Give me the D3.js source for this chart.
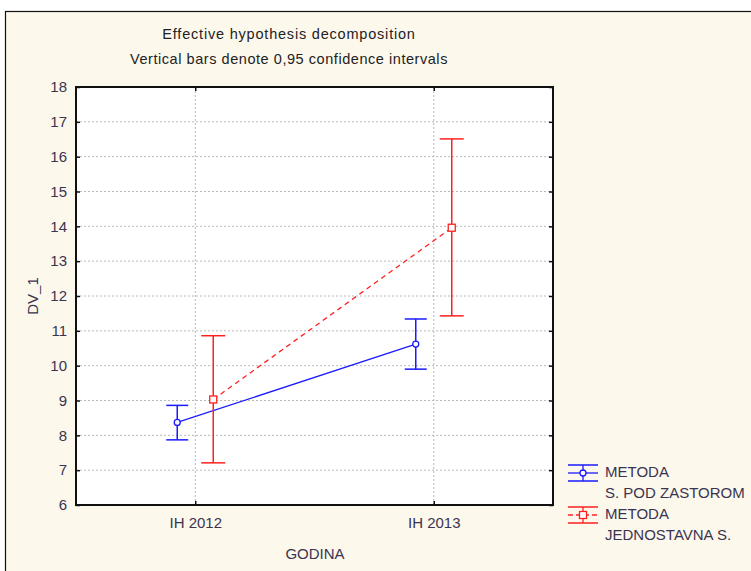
<!DOCTYPE html>
<html><head><meta charset="utf-8">
<script src="https://cdn.jsdelivr.net/npm/d3@7"></script>
<style>body{margin:0;background:#fff;}text{font-family:"Liberation Sans",Arial,sans-serif;}</style>
</head><body><svg id="c" width="751" height="571"></svg>
<script>
const categories = ["IH 2012", "IH 2013"];
const seriesNames = ["METODA\nS. POD ZASTOROM", "METODA\nJEDNOSTAVNA S."];
const blueMean = [8.37, 10.62];
const blueLow = [7.87, 9.90];
const blueHigh = [8.86, 11.34];
const redMean = [9.03, 13.96];
const redLow = [7.21, 11.43];
const redHigh = [10.86, 16.51];
const yTicks = [6,7,8,9,10,11,12,13,14,15,16,17,18];

const svg = d3.select("#c");
const txt = "#3a3450";
svg.append("rect").attr("x",0).attr("y",0).attr("width",751).attr("height",571).attr("fill","#fff");
svg.append("rect").attr("x",5.5).attr("y",11.5).attr("width",760).attr("height",580).attr("fill","#fdf8ec").attr("stroke","#111").attr("stroke-width",1.2);

const L=76,R=553,T=87,B=505;
const x = d3.scalePoint().domain(categories).range([L,R]).padding(0.5);
const y = d3.scaleLinear().domain([6,18]).range([B,T]);
svg.append("rect").attr("x",L).attr("y",T).attr("width",R-L).attr("height",B-T).attr("fill","#fff");

// grid
const g = svg.append("g");
g.selectAll(".hg").data(yTicks.slice(1,-1)).join("line")
 .attr("x1",L).attr("x2",R).attr("y1",d=>y(d)).attr("y2",d=>y(d))
 .attr("stroke","#b8b8b8").attr("stroke-dasharray","2,2");
g.selectAll(".vg").data(categories).join("line")
 .attr("x1",d=>x(d)).attr("x2",d=>x(d)).attr("y1",T).attr("y2",B)
 .attr("stroke","#b8b8b8").attr("stroke-dasharray","2,2");

// axes
const ax = svg.append("g").attr("transform",`translate(${L},0)`)
 .call(d3.axisLeft(y).tickValues(yTicks).tickSize(-4).tickPadding(9));
const axR = svg.append("g").attr("transform",`translate(${R},0)`)
 .call(d3.axisRight(y).tickValues(yTicks).tickSize(-4).tickFormat(""));
const axB = svg.append("g").attr("transform",`translate(0,${B})`)
 .call(d3.axisBottom(x).tickSize(-4).tickPadding(12));
const axT = svg.append("g").attr("transform",`translate(0,${T})`)
 .call(d3.axisTop(x).tickSize(-4).tickFormat(""));
[ax,axR,axB,axT].forEach(a=>{
  a.select(".domain").remove();
  a.selectAll("line").attr("stroke","#111").attr("stroke-width",1.5);
  a.selectAll("text").attr("fill",txt).attr("font-size",15).attr("font-family","Liberation Sans, Arial, sans-serif");
});
svg.append("rect").attr("x",L).attr("y",T).attr("width",R-L).attr("height",B-T).attr("fill","none").attr("stroke","#111").attr("stroke-width",2);

// series
const off = 18;
function drawSeries(mean, lo, hi, color, dx, dash, marker, capw){
  const gs = svg.append("g");
  const line = d3.line().x((d,i)=>x(categories[i])+dx).y(d=>y(d));
  gs.append("path").datum(mean).attr("d",line).attr("fill","none").attr("stroke",color).attr("stroke-width",1.3)
    .attr("stroke-dasharray",dash);
  categories.forEach((c,i)=>{
    const cx = x(c)+dx;
    gs.append("line").attr("x1",cx).attr("x2",cx).attr("y1",y(lo[i])).attr("y2",y(hi[i])).attr("stroke",color).attr("stroke-width",1.5);
    [lo[i],hi[i]].forEach(v=>gs.append("line").attr("x1",cx-capw).attr("x2",cx+capw).attr("y1",y(v)).attr("y2",y(v)).attr("stroke",color).attr("stroke-width",1.5));
    if(marker==="circle") gs.append("circle").attr("cx",cx).attr("cy",y(mean[i])).attr("r",3).attr("fill","#fff").attr("stroke",color).attr("stroke-width",1.3);
    else gs.append("rect").attr("x",cx-3.5).attr("y",y(mean[i])-3.5).attr("width",7).attr("height",7).attr("fill","#fff").attr("stroke",color).attr("stroke-width",1.3);
  });
}
drawSeries(blueMean, blueLow, blueHigh, "#1a1aff", -off, null, "circle", 11);
drawSeries(redMean, redLow, redHigh, "#ff2020", off, "5,4", "square", 12);

// titles
svg.append("text").attr("x",289).attr("y",39).attr("text-anchor","middle").attr("font-size",14.5).attr("letter-spacing",0.8).attr("fill","#222").text("Effective hypothesis decomposition");
svg.append("text").attr("x",289).attr("y",64).attr("text-anchor","middle").attr("font-size",14.5).attr("letter-spacing",0.55).attr("fill","#222").text("Vertical bars denote 0,95 confidence intervals");
svg.append("text").attr("x",315).attr("y",559).attr("text-anchor","middle").attr("font-size",15).attr("fill",txt).text("GODINA");
svg.append("text").attr("transform",`translate(38,${(T+B)/2}) rotate(-90)`).attr("text-anchor","middle").attr("font-size",15).attr("fill",txt).text("DV_1");

// legend
const leg = [{name:seriesNames[0],color:"#1a1aff",dash:null,marker:"circle",y:473},{name:seriesNames[1],color:"#ff2020",dash:"5,3",marker:"square",y:515}];
leg.forEach(l=>{
  const lg = svg.append("g");
  lg.append("line").attr("x1",568).attr("x2",598).attr("y1",l.y-8).attr("y2",l.y-8).attr("stroke",l.color).attr("stroke-width",1.5);
  lg.append("line").attr("x1",568).attr("x2",598).attr("y1",l.y+8).attr("y2",l.y+8).attr("stroke",l.color).attr("stroke-width",1.5);
  lg.append("line").attr("x1",568).attr("x2",598).attr("y1",l.y).attr("y2",l.y).attr("stroke",l.color).attr("stroke-width",1.3).attr("stroke-dasharray",l.dash);
  lg.append("line").attr("x1",583).attr("x2",583).attr("y1",l.y-8).attr("y2",l.y+8).attr("stroke",l.color).attr("stroke-width",1.3);
  if(l.marker==="circle") lg.append("circle").attr("cx",583).attr("cy",l.y).attr("r",3).attr("fill","#fff").attr("stroke",l.color).attr("stroke-width",1.3);
  else lg.append("rect").attr("x",579.5).attr("y",l.y-3.5).attr("width",7).attr("height",7).attr("fill","#fff").attr("stroke",l.color).attr("stroke-width",1.3);
  l.name.split("\n").forEach((s,i)=>lg.append("text").attr("x",605).attr("y",l.y+4+i*21).attr("font-size",15).attr("fill",txt).text(s));
});
</script></body></html>
